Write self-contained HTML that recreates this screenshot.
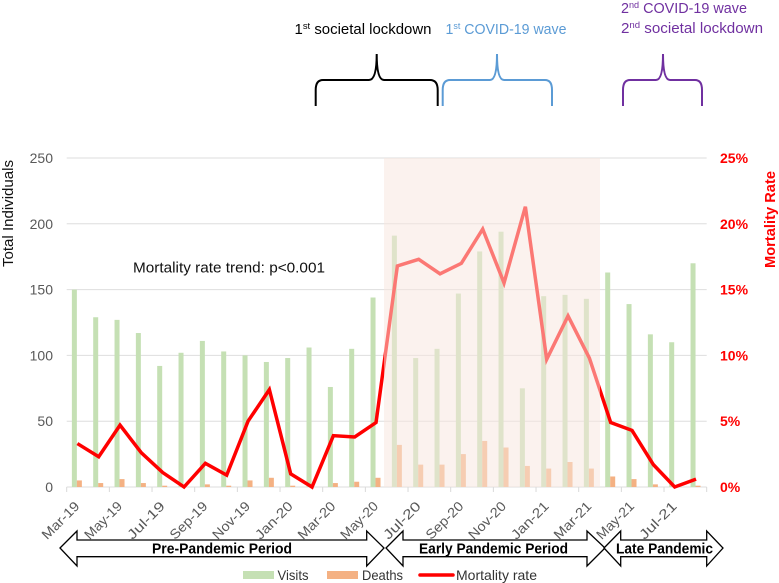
<!DOCTYPE html>
<html>
<head>
<meta charset="utf-8">
<title>Mortality rate chart</title>
<style>
html,body{margin:0;padding:0;background:#fff;}
svg{display:block;font-family:"Liberation Sans",sans-serif;filter:blur(0.35px);}
</style>
</head>
<body>
<svg id="chart" width="779" height="583" viewBox="0 0 779 583" xmlns="http://www.w3.org/2000/svg">
  <rect width="779" height="583" fill="#fff"/>
  <g id="grid"></g>
  <g id="xaxis"></g>
  <g id="yleft"></g>
  <g id="yright"></g>
  <g id="bars"></g>
  <polyline id="rate-line" fill="none" stroke="#ff0000" stroke-width="3.5" stroke-linejoin="miter"/>
  <rect x="384" y="158" width="216" height="329" fill="rgb(248,231,222)" fill-opacity="0.52"/>

  <text transform="translate(13,267) rotate(-90)" font-size="15" fill="#111" textLength="107" lengthAdjust="spacingAndGlyphs">Total Individuals</text>
  <text transform="translate(775,268) rotate(-90)" font-size="15" font-weight="bold" fill="#ff0000" textLength="97" lengthAdjust="spacingAndGlyphs">Mortality Rate</text>
  <text x="133" y="272.5" font-size="15" fill="#111" textLength="192" lengthAdjust="spacingAndGlyphs">Mortality rate trend: p&lt;0.001</text>

  <text x="294.5" y="34" font-size="15" fill="#000" textLength="137" lengthAdjust="spacingAndGlyphs">1<tspan font-size="9.5" dy="-5">st</tspan><tspan dy="5"> societal lockdown</tspan></text>
  <text x="445.5" y="34" font-size="15" fill="#5b9bd5" textLength="121" lengthAdjust="spacingAndGlyphs">1<tspan font-size="9.5" dy="-5">st</tspan><tspan dy="5"> COVID-19 wave</tspan></text>
  <text x="621" y="13" font-size="15" fill="#7030a0" textLength="126" lengthAdjust="spacingAndGlyphs">2<tspan font-size="9.5" dy="-5">nd</tspan><tspan dy="5"> COVID-19 wave</tspan></text>
  <text x="621" y="33" font-size="15" fill="#7030a0" textLength="142" lengthAdjust="spacingAndGlyphs">2<tspan font-size="9.5" dy="-5">nd</tspan><tspan dy="5"> societal lockdown</tspan></text>

  <path fill="none" stroke="#000" stroke-width="2" d="M315.7 106 V90 Q315.7 80 323 80 H369 Q376.7 80 376.7 54 Q376.7 80 384 80 H430 Q437.7 80 437.7 90 V106"/>
  <path fill="none" stroke="#5b9bd5" stroke-width="2" d="M442.7 106 V90 Q442.7 80 450 80 H490 Q497 80 497 54 Q497 80 504 80 H545 Q552 80 552 90 V106"/>
  <path fill="none" stroke="#7030a0" stroke-width="2" d="M623 106 V90 Q623 80 630 80 H656 Q663 80 663 54 Q663 80 670 80 H695 Q702 80 702 90 V106"/>

  <polygon fill="#fff" stroke="#000" stroke-width="1.3" points="60,548 77,531 77,540 366.7,540 366.7,531 384,548 366.7,566 366.7,556.7 77,556.7 77,566"/>
  <polygon fill="#fff" stroke="#000" stroke-width="1.3" points="386,548 403,531 403,540 587,540 587,531 605,548 587,566 587,556.7 403,556.7 403,566"/>
  <polygon fill="#fff" stroke="#000" stroke-width="1.3" points="604,548 620.7,531 620.7,540 706.7,540 706.7,531 723,548 706.7,566 706.7,556.7 620.7,556.7 620.7,566"/>
  <text x="152" y="553.5" font-size="15" font-weight="bold" fill="#000" textLength="140" lengthAdjust="spacingAndGlyphs">Pre-Pandemic Period</text>
  <text x="419" y="553.5" font-size="15" font-weight="bold" fill="#000" textLength="149" lengthAdjust="spacingAndGlyphs">Early Pandemic Period</text>
  <text x="616" y="553.5" font-size="15" font-weight="bold" fill="#000" textLength="97" lengthAdjust="spacingAndGlyphs">Late Pandemic</text>

  <g>
    <rect x="243" y="571" width="31" height="8" fill="#c5e0b4"/>
    <text x="277.5" y="580" font-size="14" fill="#333" textLength="31" lengthAdjust="spacingAndGlyphs">Visits</text>
    <rect x="327" y="571" width="31" height="8" fill="#f4b183"/>
    <text x="362" y="580" font-size="14" fill="#333" textLength="41" lengthAdjust="spacingAndGlyphs">Deaths</text>
    <line x1="420" y1="575" x2="453" y2="575" stroke="#ff0000" stroke-width="3.5" stroke-linecap="round"/>
    <text x="456" y="580" font-size="14" fill="#333" textLength="81" lengthAdjust="spacingAndGlyphs">Mortality rate</text>
  </g>
</svg>
<script>
var visits = [150,129,127,117,92,102,111,103,100,95,98,106,76,105,144,191,98,105,147,179,194,75,145,146,143,163,139,116,110,170];
var deaths = [5,3,6,3,1,0,2,1,5,7,1,0,3,4,7,32,17,17,25,35,30,16,14,19,14,8,6,2,0,1];
var mortalityRate = [3.3,2.3,4.7,2.6,1.1,0,1.8,0.9,5,7.4,1,0,3.9,3.8,4.9,16.8,17.3,16.2,17,19.6,15.5,21.3,9.7,13,9.8,4.9,4.3,1.7,0,0.6];
var monthLabels = ["Mar-19","May-19","Jul-19","Sep-19","Nov-19","Jan-20","Mar-20","May-20","Jul-20","Sep-20","Nov-20","Jan-21","Mar-21","May-21","Jul-21"];
var leftTicks = [0,50,100,150,200,250];
var rightTicks = [0,5,10,15,20,25];

var NS = "http://www.w3.org/2000/svg";
var plotLeft = 66.7, plotRight = 706.7, plotTop = 158, plotBottom = 487;
var leftMax = 250, rightMax = 25;

function xBand(i) { return plotLeft + i * (plotRight - plotLeft) / visits.length; }
function xCenter(i) { return xBand(i + 0.5); }
function yLeft(v) { return plotBottom - v / leftMax * (plotBottom - plotTop); }
function yRight(p) { return plotBottom - p / rightMax * (plotBottom - plotTop); }
function make(tag, attrs, parent) {
  var el = document.createElementNS(NS, tag);
  for (var k in attrs) el.setAttribute(k, attrs[k]);
  parent.appendChild(el);
  return el;
}

var gridG = document.getElementById("grid");
var xG = document.getElementById("xaxis");
var lG = document.getElementById("yleft");
var rG = document.getElementById("yright");
var barsG = document.getElementById("bars");

leftTicks.forEach(function (t) {
  var y = yLeft(t);
  var g = make("line", {x1: plotLeft, x2: plotRight, y1: y, y2: y, stroke: "#dedede", "stroke-width": 1}, gridG);
  
  
  var lab = make("text", {x: 53, y: y + 5, "text-anchor": "end", "font-size": 14, fill: "#595959"}, lG);
  lab.textContent = String(t);
  
  
});

rightTicks.forEach(function (t) {
  var lab = make("text", {x: 720, y: yRight(t) + 5, "font-size": 14, "font-weight": "bold", fill: "#ff0000"}, rG);
  lab.textContent = t + "%";
  
  
});

for (var m = 0; m <= visits.length; m += 2) {
  var tx = xBand(m);
  var tick = make("line", {x1: tx, x2: tx, y1: plotBottom, y2: plotBottom + 5, stroke: "#d9d9d9", "stroke-width": 1}, xG);
  
  
}
monthLabels.forEach(function (label, j) {
  var cx = xCenter(j * 2) + 3;
  var t = make("text", {transform: "translate(" + cx + ",507) rotate(-45)", "text-anchor": "end", "font-size": 13.5, fill: "#595959", textLength: 47, lengthAdjust: "spacingAndGlyphs"}, xG);
  t.textContent = label;
  
  
});

visits.forEach(function (v, i) {
  var c = xCenter(i);
  var b = make("rect", {x: c - 5.5, y: yLeft(v), width: 5, height: plotBottom - yLeft(v), fill: "#c5e0b4"}, barsG);
  
  
  var d = make("rect", {x: c - 0.5, y: yLeft(deaths[i]), width: 5, height: plotBottom - yLeft(deaths[i]), fill: "#f4b183"}, barsG);
  
  
});

document.getElementById("rate-line").setAttribute("points", mortalityRate.map(function (p, i) {
  return xCenter(i) + "," + yRight(p);
}).join(" "));
</script>
</body>
</html>
